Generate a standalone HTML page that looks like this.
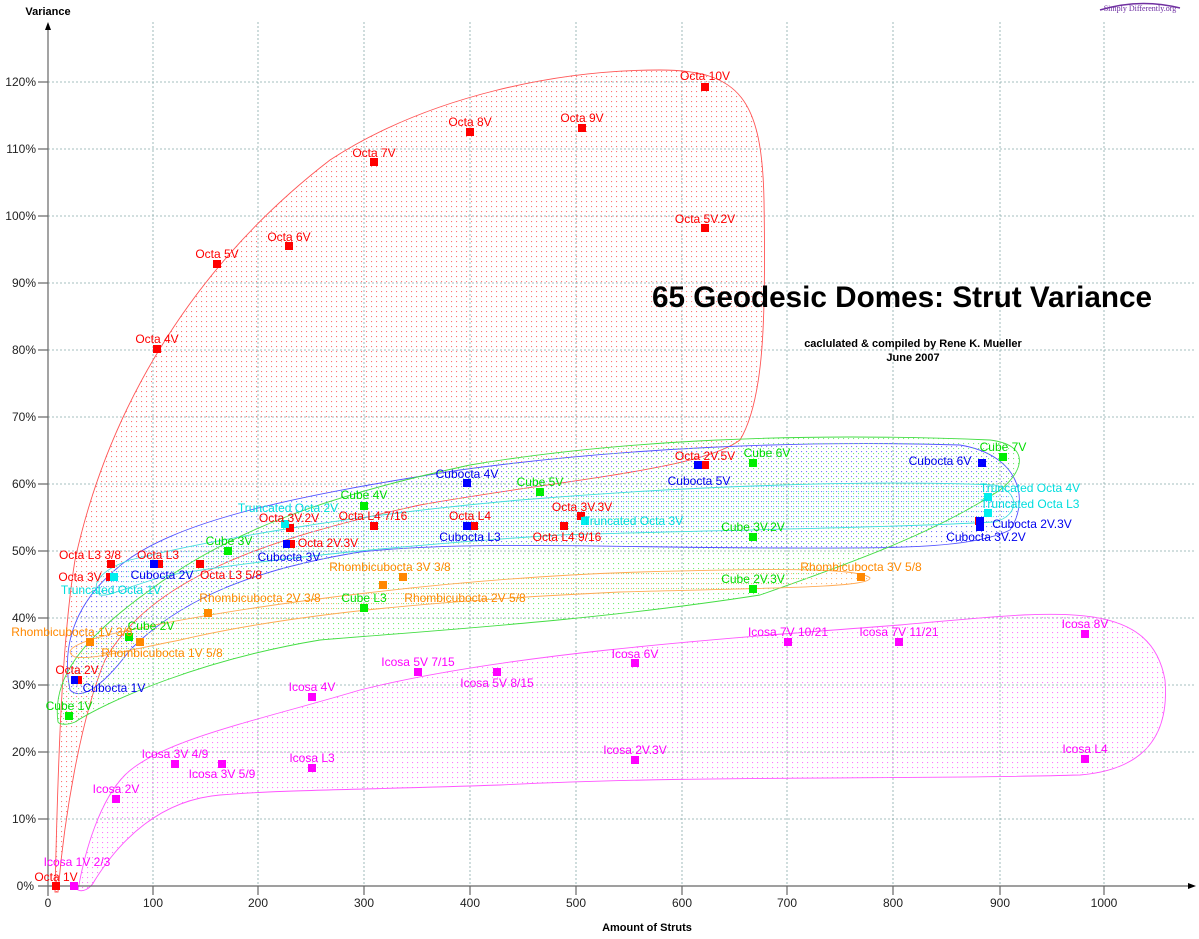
<!DOCTYPE html>
<html><head><meta charset="utf-8"><style>
html,body{margin:0;padding:0;background:#fff;}
svg{display:block;font-family:"Liberation Sans",sans-serif;}
.l{font-size:12px;text-anchor:middle;}
</style></head><body>
<svg width="1199" height="939" viewBox="0 0 1199 939" xmlns="http://www.w3.org/2000/svg">
<defs>
<pattern id="pr" width="5" height="5" patternUnits="userSpaceOnUse"><rect x="1" y="1" width="1.1" height="1.1" fill="#f77"/></pattern>
<pattern id="pb" width="5" height="5" patternUnits="userSpaceOnUse"><rect x="1" y="1" width="1.1" height="1.1" fill="#77f"/></pattern>
<pattern id="pg" width="5" height="5" patternUnits="userSpaceOnUse"><rect x="3" y="3" width="1.1" height="1.1" fill="#7e7"/></pattern>
<pattern id="pc" width="5" height="5" patternUnits="userSpaceOnUse"><rect x="3" y="1" width="1.1" height="1.1" fill="#7ee"/></pattern>
<pattern id="po" width="5" height="5" patternUnits="userSpaceOnUse"><rect x="1" y="3" width="1.1" height="1.1" fill="#fb7"/></pattern>
<pattern id="pm" width="5" height="5" patternUnits="userSpaceOnUse"><rect x="2" y="2" width="1.1" height="1.1" fill="#f7f"/></pattern>
</defs>
<g stroke="#8aa" stroke-width="0.8" stroke-dasharray="2,2">
<line x1="153" y1="22" x2="153" y2="886"/><line x1="258" y1="22" x2="258" y2="886"/><line x1="364" y1="22" x2="364" y2="886"/><line x1="470" y1="22" x2="470" y2="886"/><line x1="576" y1="22" x2="576" y2="886"/><line x1="682" y1="22" x2="682" y2="886"/><line x1="787" y1="22" x2="787" y2="886"/><line x1="893" y1="22" x2="893" y2="886"/><line x1="1000" y1="22" x2="1000" y2="886"/><line x1="1104" y1="22" x2="1104" y2="886"/>
<line x1="48" y1="82" x2="1195" y2="82"/><line x1="48" y1="149" x2="1195" y2="149"/><line x1="48" y1="216" x2="1195" y2="216"/><line x1="48" y1="283" x2="1195" y2="283"/><line x1="48" y1="350" x2="1195" y2="350"/><line x1="48" y1="417" x2="1195" y2="417"/><line x1="48" y1="484" x2="1195" y2="484"/><line x1="48" y1="551" x2="1195" y2="551"/><line x1="48" y1="618" x2="1195" y2="618"/><line x1="48" y1="685" x2="1195" y2="685"/><line x1="48" y1="752" x2="1195" y2="752"/><line x1="48" y1="819" x2="1195" y2="819"/>
</g>
<path d="M55,892 C58,760 62,640 75,560 C110,400 200,260 330,160 C430,95 560,70 660,70 C740,70 762,100 764,200 C766,320 764,400 740,440 C700,470 560,480 420,505 C260,540 150,580 105,660 C80,720 64,820 58,892 Z" fill="url(#pr)" stroke="#f55" stroke-width="0.9"/>
<path d="M70,690 C60,640 80,600 115,570 C170,520 300,495 460,470 C620,448 800,440 960,445 C1020,455 1030,500 1010,530 C970,550 880,548 780,548 C620,548 470,540 360,552 C250,570 180,600 130,650 C100,690 80,700 70,690 Z" fill="url(#pb)" stroke="#55f" stroke-width="0.9"/>
<path d="M58,722 C52,680 80,640 150,590 C230,530 330,495 470,465 C620,440 800,432 990,440 C1030,445 1025,470 1000,490 C940,530 860,560 760,595 C600,620 440,630 320,640 C200,660 110,700 75,722 C68,725 60,725 58,722 Z" fill="url(#pg)" stroke="#4d4" stroke-width="0.9"/>
<path d="M100,595 C90,585 100,570 130,560 C210,540 350,515 520,500 C700,485 880,480 995,485 C1020,492 1020,515 995,522 C880,528 720,530 560,535 C400,545 260,560 170,575 C130,585 110,597 100,595 Z" fill="url(#pc)" stroke="#4dd" stroke-width="0.9"/>
<path d="M75,657 C60,650 80,640 130,630 C250,605 450,578 640,572 C780,568 860,568 870,578 C870,588 760,588 620,592 C450,600 300,612 180,640 C120,652 90,660 75,657 Z" fill="url(#po)" stroke="#fa5" stroke-width="0.9"/>
<path d="M78,890 C85,850 100,800 125,775 C160,740 260,720 360,690 C500,655 700,640 900,625 C1050,612 1150,595 1165,680 C1170,740 1140,770 1080,775 C900,780 700,775 500,785 C350,790 280,790 220,795 C160,800 120,840 95,880 C90,890 82,892 78,890 Z" fill="url(#pm)" stroke="#f5f" stroke-width="0.9"/>
<g stroke="#666" stroke-width="1.2" fill="none">
<line x1="48" y1="24" x2="48" y2="896"/><line x1="38" y1="886" x2="1190" y2="886"/>
<line x1="38" y1="82" x2="48" y2="82"/><line x1="38" y1="149" x2="48" y2="149"/><line x1="38" y1="216" x2="48" y2="216"/><line x1="38" y1="283" x2="48" y2="283"/><line x1="38" y1="350" x2="48" y2="350"/><line x1="38" y1="417" x2="48" y2="417"/><line x1="38" y1="484" x2="48" y2="484"/><line x1="38" y1="551" x2="48" y2="551"/><line x1="38" y1="618" x2="48" y2="618"/><line x1="38" y1="685" x2="48" y2="685"/><line x1="38" y1="752" x2="48" y2="752"/><line x1="38" y1="819" x2="48" y2="819"/>
<line x1="153" y1="886" x2="153" y2="895"/><line x1="258" y1="886" x2="258" y2="895"/><line x1="364" y1="886" x2="364" y2="895"/><line x1="470" y1="886" x2="470" y2="895"/><line x1="576" y1="886" x2="576" y2="895"/><line x1="682" y1="886" x2="682" y2="895"/><line x1="787" y1="886" x2="787" y2="895"/><line x1="893" y1="886" x2="893" y2="895"/><line x1="1000" y1="886" x2="1000" y2="895"/><line x1="1104" y1="886" x2="1104" y2="895"/>
</g>
<polygon points="48,22 45,30 51,30" fill="#000"/>
<polygon points="1196,886 1188,883 1188,889" fill="#000"/>
<g font-size="12" fill="#222" text-anchor="end">
<text x="36" y="86">120%</text><text x="36" y="153">110%</text><text x="36" y="220">100%</text><text x="36" y="287">90%</text><text x="36" y="354">80%</text><text x="36" y="421">70%</text><text x="36" y="488">60%</text><text x="36" y="555">50%</text><text x="36" y="622">40%</text><text x="36" y="689">30%</text><text x="36" y="756">20%</text><text x="36" y="823">10%</text><text x="34" y="890">0%</text>
</g>
<g font-size="12" fill="#222" text-anchor="middle">
<text x="48" y="907">0</text><text x="153" y="907">100</text><text x="258" y="907">200</text><text x="364" y="907">300</text><text x="470" y="907">400</text><text x="576" y="907">500</text><text x="682" y="907">600</text><text x="787" y="907">700</text><text x="893" y="907">800</text><text x="1000" y="907">900</text><text x="1104" y="907">1000</text>
</g>
<text x="48" y="15" font-size="11" font-weight="bold" text-anchor="middle">Variance</text>
<text x="647" y="931" font-size="11" font-weight="bold" text-anchor="middle">Amount of Struts</text>
<text x="902" y="307" font-size="29.5" font-weight="bold" text-anchor="middle" textLength="500" lengthAdjust="spacingAndGlyphs">65 Geodesic Domes: Strut Variance</text>
<text x="913" y="347" font-size="11" font-weight="bold" text-anchor="middle">caclulated &amp; compiled by Rene K. Mueller</text>
<text x="913" y="361" font-size="11" font-weight="bold" text-anchor="middle">June 2007</text>
<path d="M1100,10 Q1140,-2 1180,8" stroke="#7030a0" stroke-width="1.5" fill="none"/>
<text x="1140" y="11" font-size="8" fill="#6a2aa0" text-anchor="middle" font-family="Liberation Serif,serif">Simply Differently.org</text>
<g>
<g fill="#f00">
<rect x="52" y="882" width="8" height="8"/><rect x="107" y="560" width="8" height="8"/><rect x="106" y="573" width="8" height="8"/><rect x="153" y="345" width="8" height="8"/><rect x="213" y="260" width="8" height="8"/><rect x="285" y="242" width="8" height="8"/><rect x="370" y="158" width="8" height="8"/><rect x="466" y="128" width="8" height="8"/><rect x="578" y="124" width="8" height="8"/><rect x="701" y="83" width="8" height="8"/><rect x="701" y="224" width="8" height="8"/><rect x="155" y="560" width="8" height="8"/><rect x="196" y="560" width="8" height="8"/><rect x="286" y="524" width="8" height="8"/><rect x="287" y="540" width="8" height="8"/><rect x="370" y="522" width="8" height="8"/><rect x="470" y="522" width="8" height="8"/><rect x="560" y="522" width="8" height="8"/><rect x="577" y="512" width="8" height="8"/><rect x="701" y="461" width="8" height="8"/><rect x="74" y="676" width="8" height="8"/><rect x="975" y="517" width="8" height="8"/></g>
<g fill="#00f">
<rect x="71" y="676" width="7" height="8"/><rect x="150" y="560" width="8" height="8"/><rect x="283" y="540" width="7" height="8"/><rect x="463" y="479" width="8" height="8"/><rect x="463" y="522" width="8" height="8"/><rect x="694" y="461" width="8" height="8"/><rect x="978" y="459" width="8" height="8"/><rect x="976" y="517" width="8" height="8"/><rect x="976" y="523" width="8" height="8"/></g>
<g fill="#0e0">
<rect x="65" y="712" width="8" height="8"/><rect x="125" y="633" width="8" height="8"/><rect x="224" y="547" width="8" height="8"/><rect x="360" y="502" width="8" height="8"/><rect x="360" y="604" width="8" height="8"/><rect x="536" y="488" width="8" height="8"/><rect x="749" y="459" width="8" height="8"/><rect x="999" y="453" width="8" height="8"/><rect x="749" y="533" width="8" height="8"/><rect x="749" y="585" width="8" height="8"/></g>
<g fill="#f80">
<rect x="86" y="638" width="8" height="8"/><rect x="136" y="638" width="8" height="8"/><rect x="204" y="609" width="8" height="8"/><rect x="379" y="581" width="8" height="8"/><rect x="399" y="573" width="8" height="8"/><rect x="857" y="573" width="8" height="8"/></g>
<g fill="#0ee">
<rect x="110" y="573" width="8" height="8"/><rect x="281" y="520" width="8" height="8"/><rect x="581" y="517" width="8" height="8"/><rect x="984" y="493" width="8" height="8"/><rect x="984" y="509" width="8" height="8"/></g>
<g fill="#f0f">
<rect x="70" y="882" width="8" height="8"/><rect x="112" y="795" width="8" height="8"/><rect x="171" y="760" width="8" height="8"/><rect x="218" y="760" width="8" height="8"/><rect x="308" y="693" width="8" height="8"/><rect x="308" y="764" width="8" height="8"/><rect x="414" y="668" width="8" height="8"/><rect x="493" y="668" width="8" height="8"/><rect x="631" y="659" width="8" height="8"/><rect x="631" y="756" width="8" height="8"/><rect x="784" y="638" width="8" height="8"/><rect x="895" y="638" width="8" height="8"/><rect x="1081" y="630" width="8" height="8"/><rect x="1081" y="755" width="8" height="8"/></g>
</g>
<g class="l" fill="#f00">
<text x="56" y="881">Octa 1V</text><text x="77" y="674">Octa 2V</text><text x="80" y="581">Octa 3V</text><text x="90" y="559">Octa L3 3/8</text><text x="157" y="343">Octa 4V</text><text x="217" y="258">Octa 5V</text><text x="289" y="241">Octa 6V</text><text x="374" y="157">Octa 7V</text><text x="470" y="126">Octa 8V</text><text x="582" y="122">Octa 9V</text><text x="705" y="80">Octa 10V</text><text x="705" y="223">Octa 5V.2V</text><text x="158" y="559">Octa L3</text><text x="231" y="579">Octa L3 5/8</text><text x="289" y="522">Octa 3V.2V</text><text x="328" y="547">Octa 2V.3V</text><text x="373" y="520">Octa L4 7/16</text><text x="470" y="520">Octa L4</text><text x="567" y="541">Octa L4 9/16</text><text x="582" y="511">Octa 3V.3V</text><text x="705" y="460">Octa 2V.5V</text></g>
<g class="l" fill="#00e">
<text x="114" y="692">Cubocta 1V</text><text x="162" y="579">Cubocta 2V</text><text x="289" y="561">Cubocta 3V</text><text x="467" y="478">Cubocta 4V</text><text x="470" y="541">Cubocta L3</text><text x="699" y="485">Cubocta 5V</text><text x="940" y="465">Cubocta 6V</text><text x="1032" y="528">Cubocta 2V.3V</text><text x="986" y="541">Cubocta 3V.2V</text></g>
<g class="l" fill="#0d0">
<text x="69" y="710">Cube 1V</text><text x="151" y="630">Cube 2V</text><text x="229" y="545">Cube 3V</text><text x="364" y="499">Cube 4V</text><text x="364" y="602">Cube L3</text><text x="540" y="486">Cube 5V</text><text x="767" y="457">Cube 6V</text><text x="1003" y="451">Cube 7V</text><text x="753" y="531">Cube 3V.2V</text><text x="753" y="583">Cube 2V.3V</text></g>
<g class="l" fill="#f80">
<text x="72" y="636">Rhombicubocta 1V 3/8</text><text x="162" y="657">Rhombicubocta 1V 5/8</text><text x="260" y="602">Rhombicubocta 2V 3/8</text><text x="465" y="602">Rhombicubocta 2V 5/8</text><text x="390" y="571">Rhombicubocta 3V 3/8</text><text x="861" y="571">Rhombicubocta 3V 5/8</text></g>
<g class="l" fill="#0dd">
<text x="111" y="594">Truncated Octa 1V</text><text x="288" y="512">Truncated Octa 2V</text><text x="633" y="525">Truncated Octa 3V</text><text x="1030" y="492">Truncated Octa 4V</text><text x="1030" y="508">Truncated Octa L3</text></g>
<g class="l" fill="#f0f">
<text x="77" y="866">Icosa 1V 2/3</text><text x="116" y="793">Icosa 2V</text><text x="175" y="758">Icosa 3V 4/9</text><text x="222" y="778">Icosa 3V 5/9</text><text x="312" y="691">Icosa 4V</text><text x="312" y="762">Icosa L3</text><text x="418" y="666">Icosa 5V 7/15</text><text x="497" y="687">Icosa 5V 8/15</text><text x="635" y="658">Icosa 6V</text><text x="635" y="754">Icosa 2V.3V</text><text x="788" y="636">Icosa 7V 10/21</text><text x="899" y="636">Icosa 7V 11/21</text><text x="1085" y="628">Icosa 8V</text><text x="1085" y="753">Icosa L4</text></g>
</svg>
</body></html>
